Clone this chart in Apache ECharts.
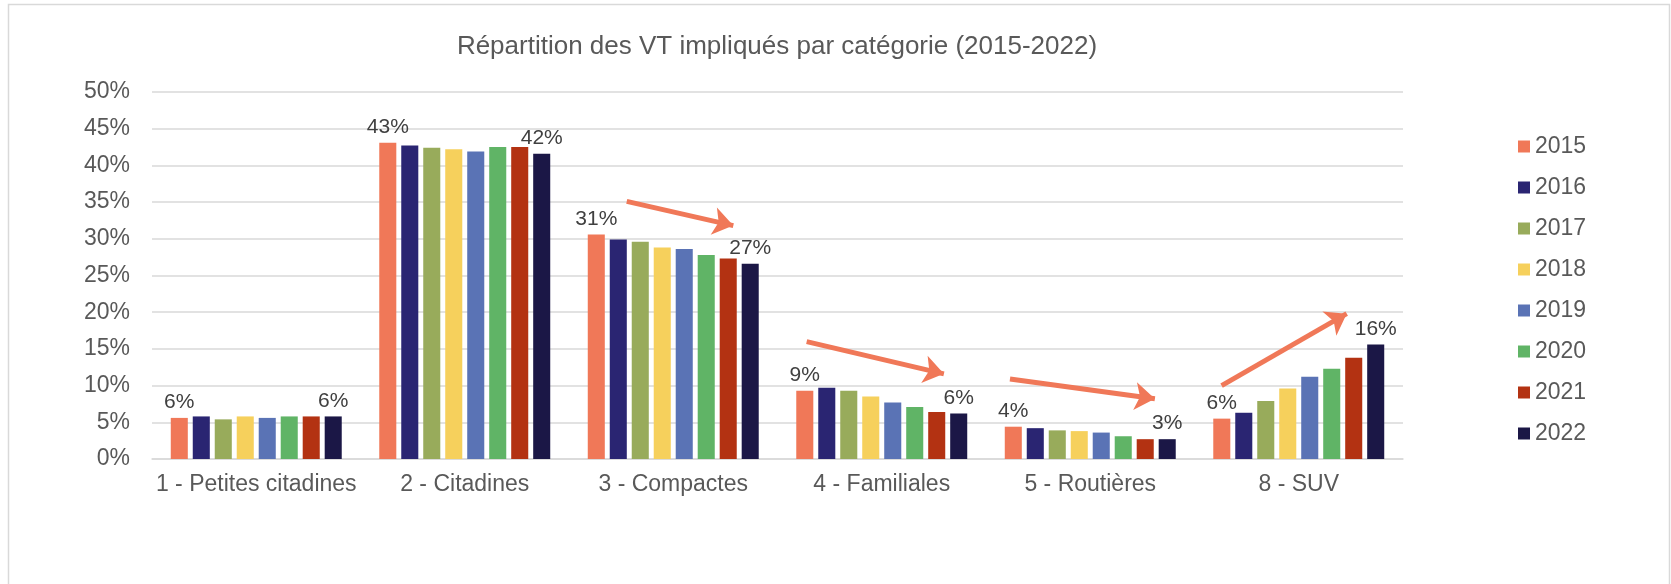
<!DOCTYPE html>
<html>
<head>
<meta charset="utf-8">
<title>Répartition des VT impliqués par catégorie</title>
<script src="https://cdn.jsdelivr.net/npm/echarts@6/dist/echarts.min.js"></script>
<style>
    html, body { margin: 0; padding: 0; background: #fff; }
    #bar-chart { width: 1671px; height: 584px; }
</style>
</head>
<body>
<div id="bar-chart"></div>
<script>
var categories = ['1 - Petites citadines', '2 - Citadines', '3 - Compactes', '4 - Familiales', '5 - Routières', '8 - SUV'],
    years = ['2015', '2016', '2017', '2018', '2019', '2020', '2021', '2022'],
    yearColors = ['#F07858', '#2A2572', '#98AB5B', '#F6D05C', '#5A73B5', '#60B466', '#B33212', '#1B1746'];

// share of vehicles (%) per year, one value per category
var v2015 = [5.6, 43.1, 30.6, 9.3, 4.4, 5.5],
    v2016 = [5.8, 42.7, 29.9, 9.7, 4.2, 6.3],
    v2017 = [5.4, 42.4, 29.6, 9.3, 3.9, 7.9],
    v2018 = [5.8, 42.2, 28.8, 8.5, 3.8, 9.6],
    v2019 = [5.6, 41.9, 28.6, 7.7, 3.6, 11.2],
    v2020 = [5.8, 42.5, 27.8, 7.1, 3.1, 12.3],
    v2021 = [5.8, 42.5, 27.3, 6.4, 2.7, 13.8],
    v2022 = [5.8, 41.6, 26.6, 6.2, 2.7, 15.6];

var yearValues = [v2015, v2016, v2017, v2018, v2019, v2020, v2021, v2022];

// trend arrows drawn over the bars: [start, tip] on (category position, %)
var trendArrows = [
    [[2.277, 35.1], [2.788, 31.8]],
    [[3.140, 16.0], [3.798, 11.6]],
    [[4.115, 10.9], [4.810, 8.2]],
    [[5.130, 10.0], [5.730, 19.8]]
];

var textFont = 'Liberation Sans, Arial, sans-serif';

var series = [];
years.forEach(function (year, i) {
    var showLabel = (i === 0 || i === years.length - 1);
    series.push({
        name: year,
        type: 'bar',
        barGap: '29%',
        barCategoryGap: '18%',
        itemStyle: { color: yearColors[i] },
        label: {
            show: showLabel,
            position: 'top',
            distance: 5,
            fontFamily: textFont,
            fontSize: 21,
            color: '#404040',
            formatter: function (p) { return Math.round(p.value) + '%'; }
        },
        data: yearValues[i]
    });
});

series.push({
    name: 'arrows',
    type: 'line',
    xAxisIndex: 1,
    data: [],
    silent: true,
    markLine: {
        silent: true,
        symbol: ['none', 'arrow'],
        symbolSize: [21, 20],
        label: { show: false },
        lineStyle: { color: '#F07858', width: 5, type: 'solid' },
        emphasis: { disabled: true },
        data: trendArrows.map(function (a) {
            return [{ coord: a[0] }, { coord: a[1] }];
        })
    }
});

var barChart = echarts.init(document.getElementById('bar-chart'));
barChart.setOption({
    animation: false,
    backgroundColor: '#ffffff',
    textStyle: { fontFamily: textFont },
    title: {
        text: 'Répartition des VT impliqués par catégorie (2015-2022)',
        left: 772,
        textAlign: 'center',
        top: 29,
        textStyle: { fontFamily: textFont, fontSize: 26, fontWeight: 'normal', color: '#595959' }
    },
    legend: {
        data: years,
        orient: 'vertical',
        left: 1513,
        top: 130,
        icon: 'rect',
        itemWidth: 12,
        itemHeight: 12,
        itemGap: 18,
        textStyle: { fontFamily: textFont, fontSize: 23, color: '#595959', lineHeight: 23 }
    },
    grid: {
        left: 152,
        right: 268,
        top: 92,
        bottom: 125,
        containLabel: false
    },
    xAxis: [{
        type: 'category',
        data: categories,
        axisTick: { show: false },
        axisLine: { lineStyle: { color: '#d9d9d9', width: 1.5 } },
        axisLabel: { interval: 0, fontFamily: textFont, fontSize: 23, color: '#595959', margin: 14 }
    }, {
        type: 'value',
        min: 0,
        max: 6,
        show: false
    }],
    yAxis: [{
        type: 'value',
        min: 0,
        max: 50,
        interval: 5,
        axisLine: { show: false },
        axisTick: { show: false },
        splitLine: { lineStyle: { color: '#d9d9d9', width: 1.5 } },
        axisLabel: { fontFamily: textFont, fontSize: 23, color: '#595959', margin: 22, formatter: '{value}%' }
    }],
    graphic: [{
        type: 'rect',
        silent: true,
        shape: { x: 8.5, y: 4.5, width: 1661, height: 620 },
        style: { fill: 'none', stroke: '#d9d9d9', lineWidth: 1.5 }
    }],
    series: series
});
</script>
</body>
</html>
